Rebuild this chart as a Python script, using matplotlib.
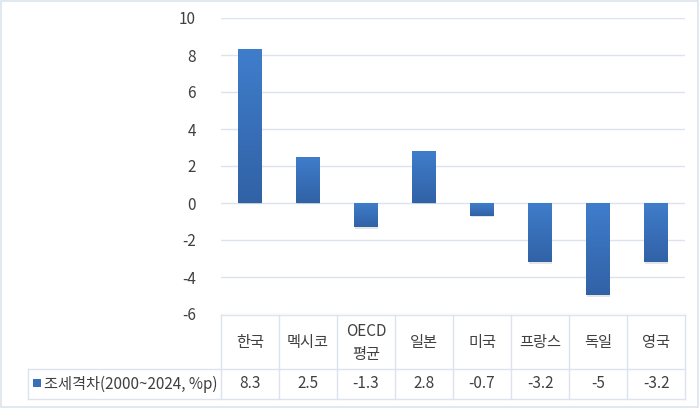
import matplotlib.pyplot as plt
import numpy as np
from matplotlib.patches import Rectangle
from matplotlib.colors import LinearSegmentedColormap

plt.rcParams['font.family'] = ['Noto Sans CJK KR', 'DejaVu Sans']

categories = ['한국', '멕시코', 'OECD\n평균', '일본', '미국', '프랑스', '독일', '영국']
values = [8.3, 2.5, -1.3, 2.8, -0.7, -3.2, -5, -3.2]
value_labels = ['8.3', '2.5', '-1.3', '2.8', '-0.7', '-3.2', '-5', '-3.2']
series_name = '조세격차(2000~2024, %p)'
y_ticks = [-6, -4, -2, 0, 2, 4, 6, 8, 10]

W, H = 700, 409
text_color = '#404040'
grid_color = '#dce3ee'
fig = plt.figure(figsize=(W / 100, H / 100), dpi=100)

def fx(px):
    return px / W

def fy(py):
    return 1 - py / H

# outer border
fig.patches.append(Rectangle((fx(1), fy(407)), fx(697), fy(1) - fy(407),
                             transform=fig.transFigure, fill=False,
                             edgecolor='#dde4ee', linewidth=1.2))

ax = fig.add_axes([fx(221), fy(314), fx(685 - 221), fy(18) - fy(314)])
ax.set_yticks(y_ticks)
ax.set_yticklabels([str(t) for t in y_ticks], color=text_color, fontsize=11)
ax.tick_params(axis='y', length=0, pad=18)
ax.set_xticks([])
for s in ax.spines.values():
    s.set_visible(False)
ax.grid(axis='y', color=grid_color, linewidth=1)
ax.set_axisbelow(True)

cmap = LinearSegmentedColormap.from_list('bar', ['#3162a6', '#3f7dcb'])
grad = np.linspace(0, 1, 100).reshape(-1, 1)
bar_w = 0.4
for i, v in enumerate(values):
    x0 = i + 0.5 - bar_w / 2
    # soft shadow under each bar
    ax.add_patch(Rectangle((x0 + 0.01, min(0, v) - 0.08), bar_w, abs(v),
                           facecolor='#000000', alpha=0.10, edgecolor='none', zorder=2))
    bar = ax.bar(i + 0.5, v, width=bar_w, color='none', edgecolor='none', zorder=3)[0]
    lo, hi = min(0, v), max(0, v)
    im = ax.imshow(grad, extent=[x0, x0 + bar_w, lo, hi], origin='lower',
                   cmap=cmap, aspect='auto', zorder=3)
    im.set_clip_path(bar)
ax.set_xlim(0, len(categories))
ax.set_ylim(-6, 10)

# data table
line_c = '#dce3ee'
col_w = (685 - 221) / len(categories)
top, mid, bot = 315, 369, 399
left_cell = 28
lw = 1
fig.add_artist(plt.Line2D([fx(221), fx(685)], [fy(top), fy(top)], color=line_c, lw=lw))
fig.add_artist(plt.Line2D([fx(left_cell), fx(685)], [fy(mid), fy(mid)], color=line_c, lw=lw))
fig.add_artist(plt.Line2D([fx(left_cell), fx(685)], [fy(bot), fy(bot)], color=line_c, lw=lw))
fig.add_artist(plt.Line2D([fx(left_cell), fx(left_cell)], [fy(mid), fy(bot)], color=line_c, lw=lw))
for k in range(len(categories) + 1):
    xp = 221 + k * col_w
    fig.add_artist(plt.Line2D([fx(xp), fx(xp)], [fy(top), fy(bot)], color=line_c, lw=lw))

for k, (c, vl) in enumerate(zip(categories, value_labels)):
    xc = 221 + (k + 0.5) * col_w
    fig.text(fx(xc), fy((top + mid) / 2 + 1), c, ha='center', va='center',
             color=text_color, fontsize=11, linespacing=1.45)
    fig.text(fx(xc), fy((mid + bot) / 2), vl, ha='center', va='center',
             color=text_color, fontsize=11)

fig.patches.append(Rectangle((fx(33), fy(387)), fx(8), fy(379) - fy(387),
                             transform=fig.transFigure, facecolor='#3a70b8',
                             edgecolor='none'))
fig.text(fx(44), fy((mid + bot) / 2), series_name, ha='left', va='center',
         color=text_color, fontsize=11)

fig.savefig('out.png', dpi=100)
